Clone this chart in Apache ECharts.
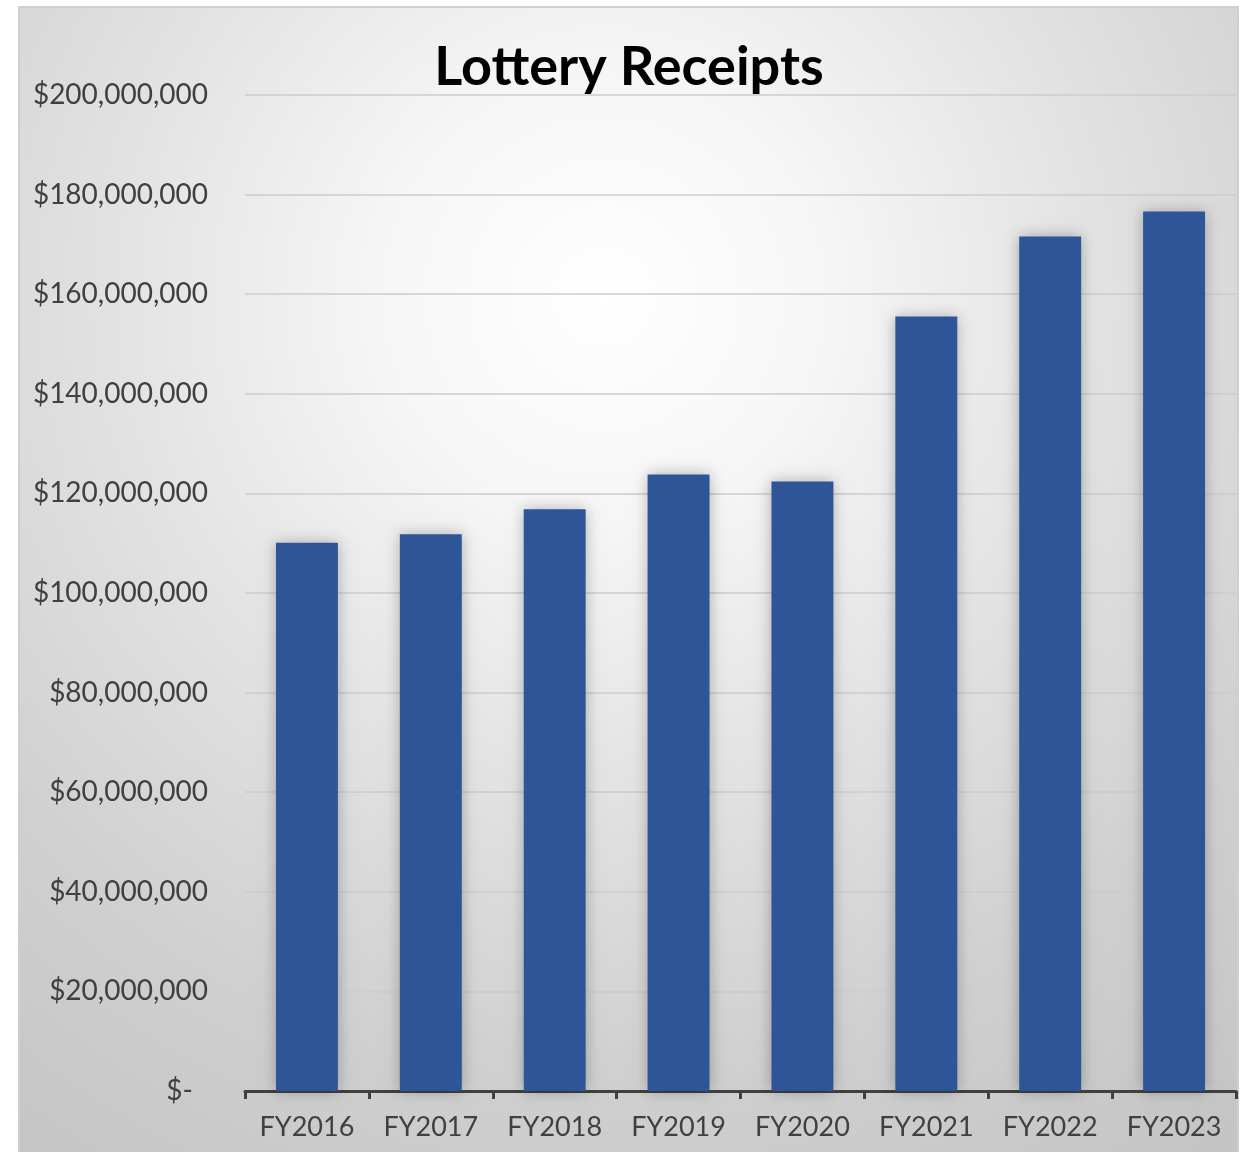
<!DOCTYPE html>
<html>
<head>
<meta charset="utf-8">
<script src="https://cdn.jsdelivr.net/npm/echarts@6/dist/echarts.min.js"></script>
<style>
  html, body { margin: 0; padding: 0; background: #fff; }
  #chart { width: 1246px; height: 1152px; }
</style>
</head>
<body>
<div id="chart"></div>
<script>
// fiscal years and lottery receipts
const years = ['FY2016', 'FY2017', 'FY2018', 'FY2019', 'FY2020', 'FY2021', 'FY2022', 'FY2023'];
const receipts = [110100000, 111800000, 116800000, 123800000, 122400000, 155500000, 171600000, 176600000];
const yMax = 200000000;
const yStep = 20000000;

const chart = echarts.init(document.getElementById('chart'));

function money(v) {
  if (v === 0) return '{z|$-}';
  return '$' + v.toLocaleString('en-US');
}

chart.setOption({
  animation: false,
  graphic: [
    {
      type: 'rect',
      z: -10,
      shape: { x: 19, y: 7, width: 1219, height: 1160 },
      style: {
        fill: {
          type: 'radial', x: 0.48, y: 0.25, r: 0.95,
          colorStops: [
            { offset: 0, color: '#ffffff' },
            { offset: 0.2, color: '#f6f6f6' },
            { offset: 0.45, color: '#e2e2e2' },
            { offset: 0.7, color: '#d0d0d0' },
            { offset: 1, color: '#c2c2c2' }
          ]
        },
        stroke: '#cfcfcf',
        lineWidth: 2
      }
    }
  ],
  title: {
    text: 'Lottery Receipts',
    left: 624,
    textAlign: 'center',
    top: 36,
    textStyle: { fontFamily: 'Lato', fontWeight: 'bold', fontSize: 54, color: '#000' }
  },
  grid: { left: 245, right: 10, top: 95, bottom: 61 },
  xAxis: {
    type: 'category',
    data: years,
    boundaryGap: true,
    axisLine: { lineStyle: { color: '#404040', width: 3 } },
    axisTick: { show: true, length: 8, lineStyle: { color: '#404040', width: 3 } },
    axisLabel: { color: '#404040', fontFamily: 'Lato', fontSize: 27, margin: 23 }
  },
  yAxis: {
    type: 'value',
    min: 0,
    max: yMax,
    interval: yStep,
    axisLine: { show: false },
    axisTick: { show: false },
    splitLine: { lineStyle: { color: '#cccccc', width: 1.5 } },
    axisLabel: {
      color: '#404040', fontFamily: 'Lato', fontSize: 28, margin: 37,
      formatter: money,
      rich: { z: { color: '#404040', fontFamily: 'Lato', fontSize: 28, padding: [0, 15, 0, 0] } }
    }
  },
  series: [
    {
      type: 'bar',
      data: receipts,
      barWidth: '50%',
      itemStyle: {
        color: '#2E5597',
        shadowBlur: 14,
        shadowColor: 'rgba(0,0,0,0.28)'
      }
    }
  ]
});
</script>
</body>
</html>
